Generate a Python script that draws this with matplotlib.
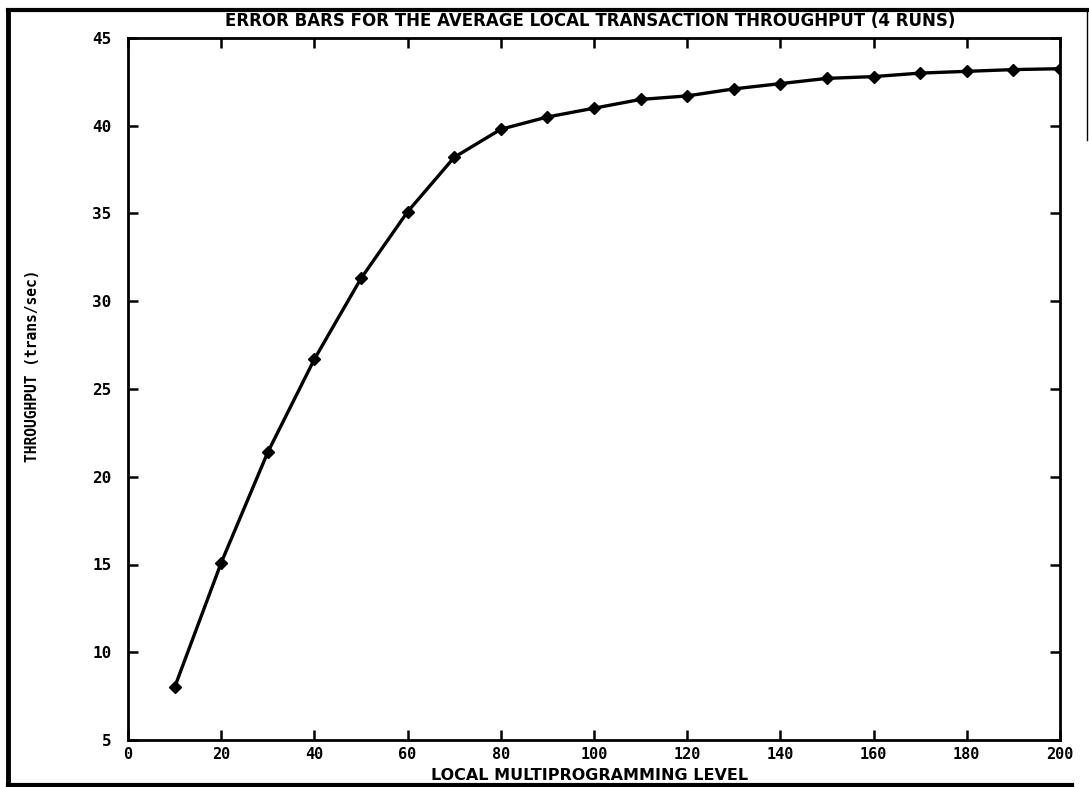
import matplotlib
matplotlib.use("Agg")
import matplotlib.pyplot as plt
from matplotlib.lines import Line2D

mpl_level = [10, 20, 30, 40, 50, 60, 70, 80, 90, 100,
             110, 120, 130, 140, 150, 160, 170, 180, 190, 200]
throughput = [8.0, 15.1, 21.4, 26.7, 31.3, 35.1, 38.2, 39.8, 40.5, 41.0,
              41.5, 41.7, 42.1, 42.4, 42.7, 42.8, 43.0, 43.1, 43.2, 43.25]
x_ticks = [0, 20, 40, 60, 80, 100, 120, 140, 160, 180, 200]
y_ticks = [5, 10, 15, 20, 25, 30, 35, 40, 45]

title = "ERROR BARS FOR THE AVERAGE LOCAL TRANSACTION THROUGHPUT (4 RUNS)"
xlabel = "LOCAL MULTIPROGRAMMING LEVEL"
ylabel = "THROUGHPUT (trans/sec)"

font = "DejaVu Sans Mono"
wide = "DejaVu Sans"

fig = plt.figure(figsize=(10.89, 7.87), dpi=100)
ax = fig.add_axes([128/1089, 1 - 740/787, (1060-128)/1089, (740-38)/787])

ax.plot(mpl_level, throughput, color="black", linewidth=2.4,
        marker="D", markersize=6, markerfacecolor="black",
        markeredgecolor="black", solid_joinstyle="round")

ax.set_xlim(0, 200)
ax.set_ylim(5, 45)
ax.set_xticks(x_ticks)
ax.set_yticks(y_ticks)
ax.set_xticklabels([str(v) for v in x_ticks], fontfamily=font,
                   fontweight="bold", fontsize=11)
ax.set_yticklabels([str(v) for v in y_ticks], fontfamily=font,
                   fontweight="bold", fontsize=11.5)
ax.tick_params(axis="both", direction="in", length=7, width=1.8,
               top=True, right=True, colors="black")
ax.tick_params(axis="y", pad=12)
ax.tick_params(axis="x", pad=5)
for s in ax.spines.values():
    s.set_linewidth(2.0)

fig.text(590/1089, 1 - 21/787, title, ha="center", va="center",
         fontfamily=wide, fontweight="bold", fontsize=12)
fig.text(590/1089, 1 - 775/787, xlabel, ha="center", va="center",
         fontfamily=wide, fontweight="bold", fontsize=11.5)
fig.text(33/1089, 1 - 366/787, ylabel, ha="center", va="center",
         rotation=90, fontfamily=font, fontweight="bold", fontsize=10.5)

# outer frame
L, R, T, B = 8/1089, 1087/1089, 1 - 10/787, 1 - 785/787
for xs, ys, lw in [([L, L], [B, T], 3.5), ([L, 1089/1089], [T, T], 3),
                   ([L, 1072/1089], [B, B], 3), ([R, R], [1 - 140/787, T], 1)]:
    fig.add_artist(Line2D(xs, ys, transform=fig.transFigure,
                          color="black", linewidth=lw))

fig.savefig("out.png", dpi=100, facecolor="white")
